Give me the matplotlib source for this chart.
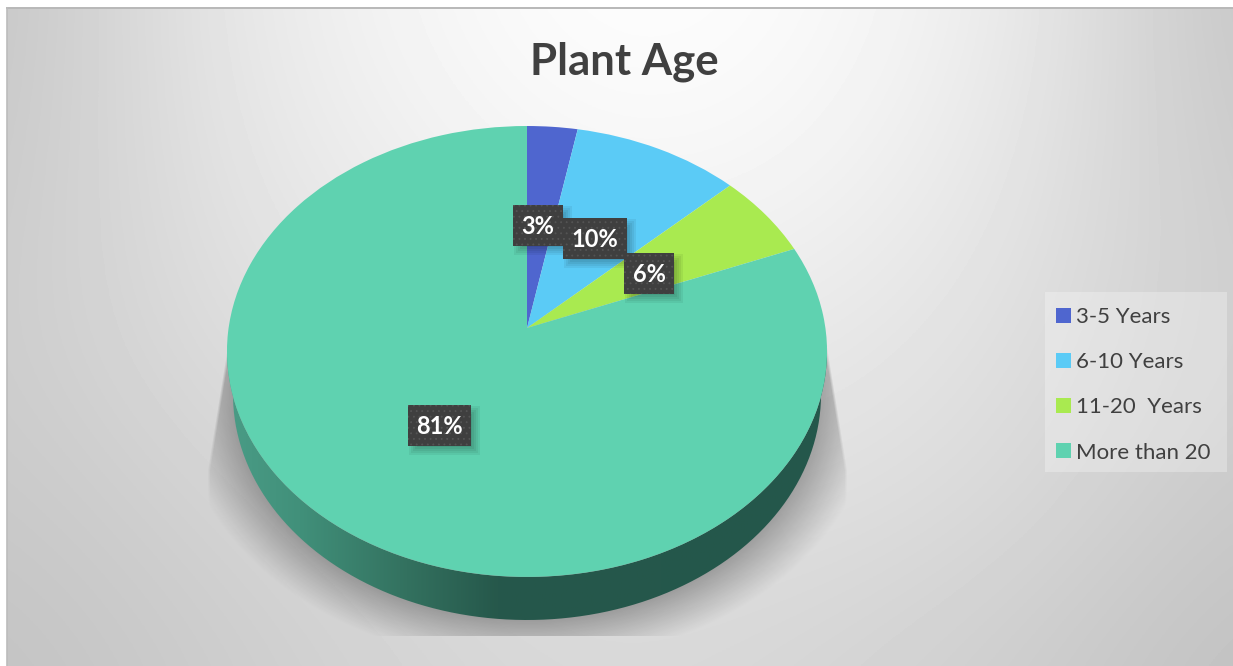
import numpy as np
import matplotlib
matplotlib.use("Agg")
import matplotlib.pyplot as plt
from matplotlib.patches import Rectangle, PathPatch
from matplotlib.path import Path
from matplotlib.transforms import Transform
from matplotlib.colors import LinearSegmentedColormap

title = "Plant Age"
categories = ["3-5 Years", "6-10 Years", "11-20  Years", "More than 20"]
shares = [3, 10, 6, 81]
percent_labels = ["3%", "10%", "6%", "81%"]
colors = ["#4f66cf", "#5bcbf6", "#a9ea50", "#5fd2b0"]

# backdrop grey levels on an even 7 x 5 grid
backdrop = [
    [196, 230, 246, 255, 250, 234, 196],
    [200, 226, 240, 248, 244, 228, 202],
    [204, 220, 230, 235, 233, 222, 206],
    [200, 210, 220, 223, 224, 216, 200],
    [194, 203, 212, 217, 212, 204, 192],
]

W, H = 1233, 666
plt.rcParams["font.family"] = ["Lato", "DejaVu Sans"]
plt.rcParams["hatch.linewidth"] = 0.6
fig = plt.figure(figsize=(W / 100, H / 100), dpi=100, facecolor="white")
ax = fig.add_axes([0, 0, 1, 1])


class Tilt(Transform):
    """Perspective view of the unit-circle pie, in pixel coordinates."""
    input_dims = output_dims = 2

    def transform_non_affine(self, v):
        v = np.asarray(v, float)
        d = 1 + 0.104 * v[:, 1]
        return np.column_stack([527 + 298.4 * v[:, 0] / d, 328 - 223 * v[:, 1] / d])


# ---- background
x0, y0 = 7, 8
dx, dy = (W - x0) / 6 / 2, (H - y0) / 4 / 2
bg_im = ax.imshow(np.array(backdrop, float), extent=(x0 - dx, W + dx, H + dy, y0 - dy),
                  cmap="gray", vmin=0, vmax=255, zorder=0, aspect="auto",
                  interpolation="bicubic")
bg_im.set_clip_path(Rectangle((x0, y0), W - x0, H - y0, transform=ax.transData))
ax.plot([x0, W], [y0 - 0.5, y0 - 0.5], color="#b8b8b8", lw=1.4, zorder=1)
ax.plot([x0 - 0.5, x0 - 0.5], [y0, H], color="#bcbcbc", lw=1.2, zorder=1)

# ---- soft shadow under the disc
yy, xx = np.mgrid[y0:H, x0:W]
ddy = np.maximum(yy - 394.5, 0)
ell = np.hypot((xx - 527) / 294, ddy / 225.5)
dist_out = (ell - 1) * 260
fade = np.clip(1 - dist_out / 50, 0, 1) ** 1.05
half = 290 + 30 * np.clip((yy - 285) / (470 - 285), 0, 1)
side = np.clip((half - np.abs(xx - 527)) / 3, 0, 1)
top = np.clip((yy - 285) / 90, 0, 1)
shadow = 0.28 * fade * side * top * (yy < 636)
rgba = np.zeros(shadow.shape + (4,))
rgba[..., 3] = shadow
ax.imshow(rgba, extent=(x0, W, H, y0), zorder=1, aspect="auto", interpolation="bilinear")

# ---- rim, drawn as a clipped horizontal gradient
t = np.linspace(np.pi, 2 * np.pi, 200)
upper = np.column_stack([527 + 300 * np.cos(t), 351.5 - 225.5 * np.sin(t)])
lower = np.column_stack([527 + 294 * np.cos(t), 394.5 - 225.5 * np.sin(t)])
rim_path = Path(np.vstack([upper, lower[::-1], upper[:1]]))
rim_cmap = LinearSegmentedColormap.from_list(
    "rim", [(0, "#4a9c86"), (0.12, "#41907a"), (0.3, "#33715f"),
            (0.45, "#26584b"), (1, "#24574b")])
rim_im = ax.imshow(np.linspace(0, 1, 256)[None, :], extent=(227, 827, 625, 340),
                   cmap=rim_cmap, aspect="auto", zorder=2)
rim_im.set_clip_path(PathPatch(rim_path, transform=ax.transData))

# ---- pie top
wedges, _ = ax.pie(shares, colors=colors, startangle=90, counterclock=False,
                   radius=1, center=(0, 0))
tilt = Tilt() + ax.transData
for w in wedges:
    w.set_transform(tilt)
    w.set_zorder(3)
    w.set_edgecolor("none")

ax.set_aspect("auto")
ax.set_xlim(0, W)
ax.set_ylim(H, 0)
ax.axis("off")

# ---- data labels
label_xy = [(538, 225.5), (595, 238), (649, 273.5), (439.5, 425)]
label_w = [50, 64, 50, 63]
label_h = 41
for (lx, ly), bw in zip(label_xy, label_w):
    for grow in range(0, 10, 2):
        ax.add_patch(Rectangle((lx - bw / 2 + 5 - 4 + grow, ly - label_h / 2 + 5 - 4 + grow),
                               bw + 8 - 2 * grow, label_h + 8 - 2 * grow,
                               fc="black", ec="none", alpha=0.055, zorder=4))
for (lx, ly), bw in zip(label_xy, label_w):
    ax.add_patch(Rectangle((lx - bw / 2, ly - label_h / 2), bw, label_h,
                           fc="#3f3f3f", ec="#545454", lw=0, hatch="...", zorder=5))
for txt, (lx, ly) in zip(percent_labels, label_xy):
    ax.text(lx, ly + 1.5, txt, color="white", fontsize=17, fontweight="bold",
            ha="center", va="center", zorder=6)

# ---- title
ax.text(624, 61.5, title, color="#404040", fontsize=31.5, fontweight="bold",
        ha="center", va="center", zorder=6)

# ---- legend
ax.add_patch(Rectangle((1045, 292), 182, 180, fc="white", ec="none", alpha=0.28, zorder=4))
leg = ax.legend(wedges, categories, loc="upper left", bbox_to_anchor=(1034 / W, 1 - 285 / H),
                frameon=False, fontsize=16, labelcolor="#404040", handlelength=0.65,
                handleheight=0.65, handletextpad=0.22, labelspacing=1.13, borderpad=0.5)
leg.set_zorder(6)

fig.savefig("out.png", dpi=100)
